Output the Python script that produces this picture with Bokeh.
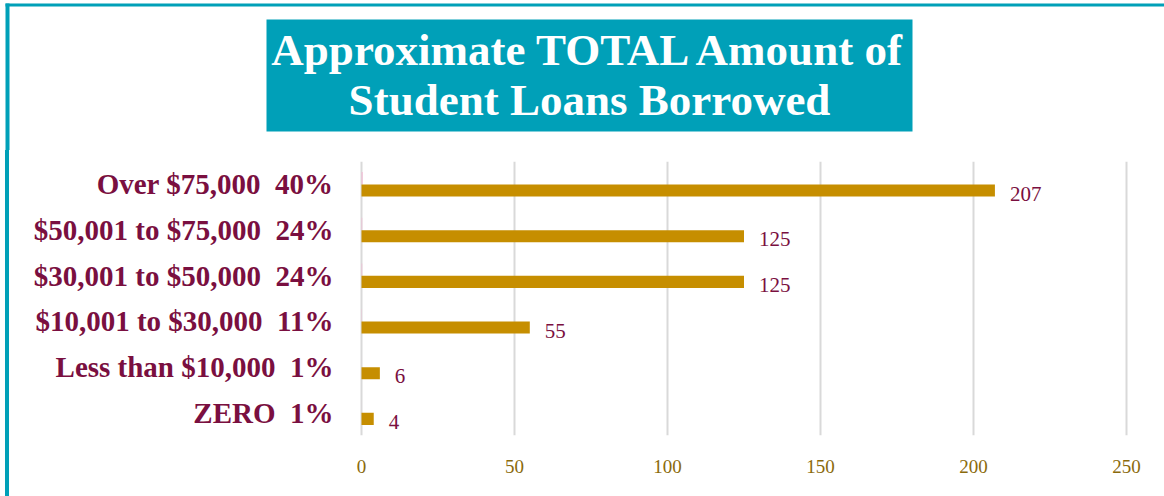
from bokeh.plotting import figure
from bokeh.models import Range1d, FactorRange, FixedTicker, ColumnDataSource, Div
from bokeh.layouts import column, row
from bokeh.transform import dodge
from bokeh.core.properties import value
from bokeh.embed import file_html
from bokeh.resources import INLINE

# ---- data ----
categories = ["Over $75,000 \u00a040%", "$50,001 to $75,000 \u00a024%", "$30,001 to $50,000 \u00a024%",
              "$10,001 to $30,000 \u00a011%", "Less than $10,000 \u00a01%", "ZERO \u00a01%"]
counts = [207, 125, 125, 55, 6, 4]
percents = [0.40, 0.24, 0.24, 0.11, 0.01, 0.01]
x_ticks = [0, 50, 100, 150, 200, 250]
title_lines = ["Approximate TOTAL Amount of", "Student Loans Borrowed"]

TEAL = "#00A0B8"
MAROON = "#7A0F40"
GOLD = "#C68E00"
TICK = "#8A6A0C"
PINK = "#F2BED6"
FONT = "Liberation Serif"

W, H = 1164, 496
HEAD_H = 150


def blank(width, height, xr, yr):
    f = figure(width=width, height=height, x_range=xr, y_range=yr,
               toolbar_location=None, output_backend="svg",
               x_axis_type=None, y_axis_type=None, min_border=0)
    f.outline_line_color = None
    f.grid.visible = False
    f.background_fill_color = "white"
    f.border_fill_color = "white"
    return f

# ---- header ----
head = blank(W, HEAD_H, Range1d(0, W), Range1d(HEAD_H, 0))
head.quad(left=5, right=W, top=3, bottom=6, fill_color=TEAL, line_color=None)
head.quad(left=5, right=9, top=3, bottom=HEAD_H, fill_color=TEAL, line_color=None)
head.quad(left=266, right=912, top=19, bottom=131, fill_color=TEAL, line_color=None)
head.text(x=[589, 589], y=[49, 99], text=title_lines, text_color="white",
          text_font=value(FONT), text_font_style="bold", text_font_size="45px",
          text_align="center", text_baseline="middle")

# ---- left border strip ----
MAIN_H = H - HEAD_H
strip = Div(text="", width=4, height=MAIN_H, margin=(0, 0, 0, 5),
            styles={"background-color": TEAL})

# ---- main chart ----
px_per_unit = 3.06
pad = 6 / px_per_unit
src = ColumnDataSource(dict(cat=categories, count=counts, pct=percents,
                            label=[str(c) for c in counts]))

p = figure(width=W - 9, height=MAIN_H,
           x_range=Range1d(-pad, 250 + pad),
           y_range=FactorRange(factors=categories[::-1], range_padding=0),
           toolbar_location=None, output_backend="svg",
           min_border_left=346, min_border_right=32,
           min_border_top=11, min_border_bottom=61)
p.outline_line_color = None
p.background_fill_color = "white"
p.border_fill_color = "white"

p.hbar(y=dodge("cat", 0.136, range=p.y_range), right="pct", left=0, height=0.263,
       source=src, fill_color=PINK, line_color=None)
p.hbar(y=dodge("cat", -0.136, range=p.y_range), right="count", left=0, height=0.263,
       source=src, fill_color=GOLD, line_color=None)
p.text(x="count", y=dodge("cat", -0.136, range=p.y_range), text="label", source=src,
       x_offset=15, y_offset=3, text_color=MAROON, text_font=value(FONT),
       text_font_size="21px", text_baseline="middle", text_align="left")

p.xaxis.ticker = FixedTicker(ticks=x_ticks)
p.xgrid.ticker = FixedTicker(ticks=x_ticks)
p.xgrid.grid_line_color = "#D9D9D9"
p.xgrid.grid_line_width = 2
p.ygrid.grid_line_color = None

p.xaxis.axis_line_color = None
p.xaxis.major_tick_line_color = None
p.xaxis.minor_tick_line_color = None
p.xaxis.major_tick_out = 0
p.xaxis.minor_tick_out = 0
p.xaxis.major_label_standoff = 24
p.xaxis.major_label_text_color = TICK
p.xaxis.major_label_text_font = FONT
p.xaxis.major_label_text_font_size = "19px"

p.yaxis.axis_line_color = None
p.yaxis.major_tick_line_color = None
p.yaxis.minor_tick_line_color = None
p.yaxis.major_tick_out = 0
p.yaxis.minor_tick_out = 0
p.yaxis.major_label_standoff = 22
p.yaxis.major_label_text_color = MAROON
p.yaxis.major_label_text_font = FONT
p.yaxis.major_label_text_font_style = "bold"
p.yaxis.major_label_text_font_size = "29px"

layout = column(head, row(strip, p))
open("out.html", "w").write(file_html(layout, INLINE))
